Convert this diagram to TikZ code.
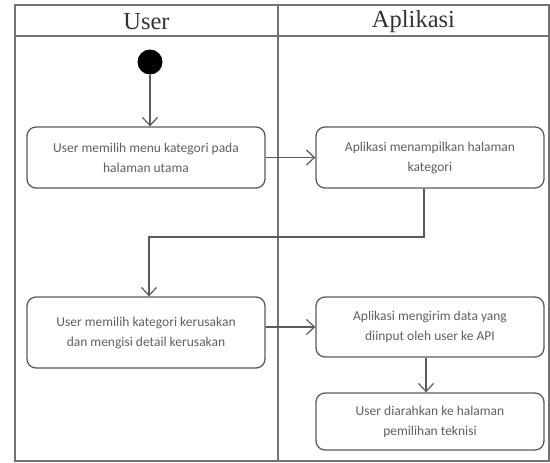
\documentclass[tikz,border=0pt]{standalone}
\usepackage{fontspec}
\setmainfont{Liberation Serif}
\newfontfamily\boxfont{Carlito}
\definecolor{lanegray}{RGB}{115, 115, 115}
\definecolor{edgegray}{RGB}{90, 90, 90}
\definecolor{txtgray}{RGB}{95, 95, 95}
\usetikzlibrary{arrows.meta, positioning}

\begin{document}
\begin{tikzpicture}[
  x=1pt, y=-1pt,
  act/.style={draw=edgegray, line width=1.3pt, rounded corners=9pt, align=center,
    font=\boxfont\fontsize{13.5}{20}\selectfont, text=txtgray, inner sep=0pt},
  lane/.style={font=\fontsize{24.5}{28}\selectfont, text=black!80},
  flow/.style={draw=edgegray, line width=1.2pt, -{Straight Barb[length=8pt, width=15pt, line width=1.2pt]}}
]
  \useasboundingbox (0,0) rectangle (550,463);

  % swimlanes
  \draw[lanegray, line width=1.5pt] (15,5) rectangle (549,461);
  \draw[lanegray, line width=1.5pt] (15,36) -- (549,36);
  \draw[lanegray, line width=1.5pt] (278,5) -- (278,461);
  \node[lane] (hUser) at (146.5,22) {User};
  \node[lane] (hApp) at (413.5,22) {Aplikasi};

  % activities
  \node[circle, fill=black, minimum size=25pt, inner sep=0pt] (start) at (150,62) {};
  \node[act, minimum width=238pt, minimum height=61pt] (pilihMenu) at (146,157.5)
    {User memilih menu kategori pada\\halaman utama};
  \node[act, minimum width=228pt, minimum height=61pt] (tampilKat) at (430,157.5)
    {Aplikasi menampilkan halaman\\kategori};
  \node[act, minimum width=238pt, minimum height=71pt] (isiDetail) at (146,332.5)
    {User memilih kategori kerusakan\\dan mengisi detail kerusakan};
  \node[act, minimum width=228pt, minimum height=60pt] (kirimData) at (430,327)
    {Aplikasi mengirim data yang\\diinput oleh user ke API};
  \node[act, minimum width=228pt, minimum height=57pt] (pilihTek) at (430,421.5)
    {User diarahkan ke halaman\\pemilihan teknisi};

  % transitions
  \coordinate (bend1) at (424,237);
  \coordinate (bend2) at (149,237);
  \draw[flow] (start) -- (start |- pilihMenu.north);
  \draw[flow] (pilihMenu) -- (tampilKat);
  \draw[flow] (tampilKat.south -| bend1) -- (bend1) -- (bend2) -- (bend2 |- isiDetail.north);
  \draw[flow] (isiDetail.east |- kirimData) -- (kirimData);
  \draw[flow] (kirimData.south -| 426,0) -- (pilihTek.north -| 426,0);
\end{tikzpicture}
\end{document}
